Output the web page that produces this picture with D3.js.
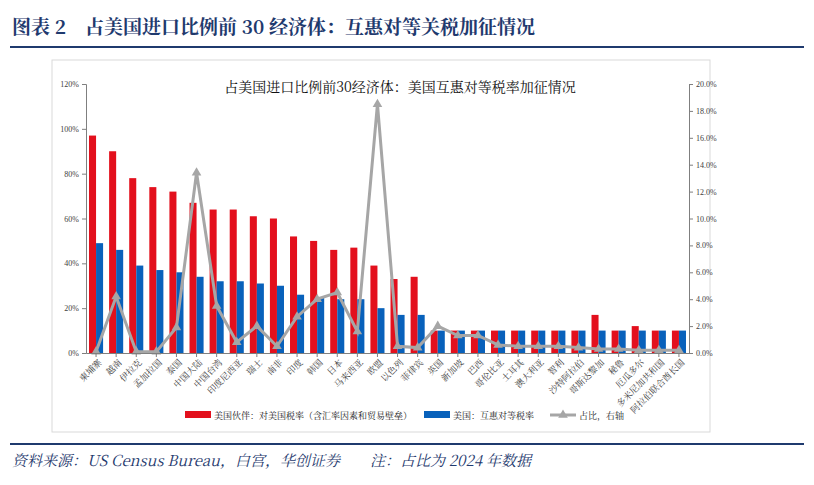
<!DOCTYPE html>
<html><head><meta charset="utf-8">
<script src="https://cdn.jsdelivr.net/npm/d3@7"></script>
<style>body{margin:0;background:#fff;font-family:"Noto Serif CJK SC","Noto Sans CJK SC",serif}</style>
</head><body><svg id="c" width="814" height="485"></svg>
<script>
const categories = ["柬埔寨","越南","伊拉克","孟加拉国","泰国","中国大陆","中国台湾","印度尼西亚","瑞士","南非","印度","韩国","日本","马来西亚","欧盟","以色列","菲律宾","英国","新加坡","巴西","哥伦比亚","土耳其","澳大利亚","智利","沙特阿拉伯","哥斯达黎加","秘鲁","厄瓜多尔","多米尼加共和国","阿拉伯联合酋长国"];
const redValues = [97,90,78,74,72,67,64,64,61,60,52,50,46,47,39,33,34,10,10,10,10,10,10,10,10,17,10,12,10,10];
const blueValues = [49,46,39,37,36,34,32,32,31,30,26,25,24,24,20,17,17,10,10,10,10,10,10,10,10,10,10,10,10,10];
const shareValues = [0.1,4.2,0.1,0.1,1.9,13.4,3.5,0.8,2.0,0.5,2.7,4.0,4.5,1.6,18.5,0.5,0.4,2.0,1.3,1.3,0.6,0.5,0.5,0.5,0.4,0.3,0.3,0.2,0.2,0.2];
const leftTicks = [0,20,40,60,80,100,120];
const rightTicks = [0,2,4,6,8,10,12,14,16,18,20];

const svg = d3.select('#c');
const navy = '#1f3a6e';
svg.append('text').attr('x',12).attr('y',34).attr('fill',navy).attr('font-size',19).attr('font-weight','bold')
  .attr('font-family','"Noto Serif CJK SC","Noto Sans CJK SC",serif')
  .text('图表 2\u2003占美国进口比例前 30 经济体：互惠对等关税加征情况');
svg.append('line').attr('x1',10).attr('x2',804).attr('y1',47).attr('y2',47).attr('stroke',navy).attr('stroke-width',2);
svg.append('line').attr('x1',10).attr('x2',804).attr('y1',444).attr('y2',444).attr('stroke',navy).attr('stroke-width',2);
svg.append('text').attr('x',12).attr('y',466).attr('fill',navy).attr('font-size',15).attr('font-style','italic')
  .text('资料来源：US Census Bureau，白宫，华创证券\u2003\u2003注：占比为 2024 年数据');
svg.append('rect').attr('x',52).attr('y',60).attr('width',658).attr('height',372).attr('fill','none').attr('stroke','#d9d9d9');

const m = {l:86, r:689, t:84, b:353};
const x = d3.scaleBand().domain(categories).range([m.l, m.r]).paddingInner(0.3).paddingOuter(0.15);
const yL = d3.scaleLinear().domain([0,120]).range([m.b, m.t]);
const yR = d3.scaleLinear().domain([0,20]).range([m.b, m.t]);
const bw = x.bandwidth()/2;

const g = svg.append('g');
g.selectAll('.r').data(categories).enter().append('rect')
  .attr('x', d=>x(d)).attr('y', (d,i)=>yL(redValues[i])).attr('width', bw)
  .attr('height', (d,i)=>m.b - yL(redValues[i])).attr('fill','#e3101d');
g.selectAll('.b').data(categories).enter().append('rect')
  .attr('x', d=>x(d)+bw).attr('y', (d,i)=>yL(blueValues[i])).attr('width', bw)
  .attr('height', (d,i)=>m.b - yL(blueValues[i])).attr('fill','#0861bb');

const line = d3.line().x((d,i)=>x(categories[i])+x.bandwidth()/2).y(d=>yR(d));
g.append('path').datum(shareValues).attr('d', line).attr('fill','none').attr('stroke','#a6a6a6').attr('stroke-width',3);
const tri = d3.symbol().type(d3.symbolTriangle).size(40);
g.selectAll('.t').data(shareValues).enter().append('path').attr('d', tri)
  .attr('transform',(d,i)=>`translate(${x(categories[i])+x.bandwidth()/2},${yR(d)})`).attr('fill','#a6a6a6');

const aL = svg.append('g').attr('transform',`translate(${m.l},0)`)
  .call(d3.axisLeft(yL).tickValues(leftTicks).tickFormat(d=>d+'%').tickSize(4));
const aR = svg.append('g').attr('transform',`translate(${m.r},0)`)
  .call(d3.axisRight(yR).tickValues(rightTicks).tickFormat(d=>d.toFixed(1)+'%').tickSize(4));
const aB = svg.append('g').attr('transform',`translate(0,${m.b})`)
  .call(d3.axisBottom(x).tickSize(4).tickSizeOuter(0));
[aL,aR,aB].forEach(a=>{a.selectAll('path,line').attr('stroke','#7f7f7f');a.selectAll('text').attr('fill','#404040').attr('font-size',8).attr('font-family','"Liberation Serif",serif');});
aB.selectAll('text').attr('font-size',9).attr('font-family','"Noto Serif CJK SC","Noto Sans CJK SC",serif')
  .attr('text-anchor','end').attr('transform','rotate(-45)').attr('dx','-0.3em').attr('dy','0.5em');

svg.append('text').attr('x',400).attr('y',92).attr('text-anchor','middle').attr('font-size',14).attr('fill','#111')
  .text('占美国进口比例前30经济体：美国互惠对等税率加征情况');

const leg = [{t:'美国伙伴：对美国税率（含汇率因素和贸易壁垒）',c:'#e3101d',x:185},{t:'美国：互惠对等税率',c:'#0861bb',x:424},{t:'占比，右轴',c:'#a6a6a6',x:550,line:true}];
leg.forEach(l=>{
  if(l.line){svg.append('line').attr('x1',l.x).attr('x2',l.x+26).attr('y1',415).attr('y2',415).attr('stroke',l.c).attr('stroke-width',3);
    svg.append('path').attr('d',tri).attr('transform',`translate(${l.x+13},415)`).attr('fill',l.c);}
  else svg.append('rect').attr('x',l.x).attr('y',411).attr('width',26).attr('height',7).attr('fill',l.c);
  svg.append('text').attr('x',l.x+29).attr('y',419).attr('font-size',9).attr('fill','#222').text(l.t);
});
</script></body></html>
